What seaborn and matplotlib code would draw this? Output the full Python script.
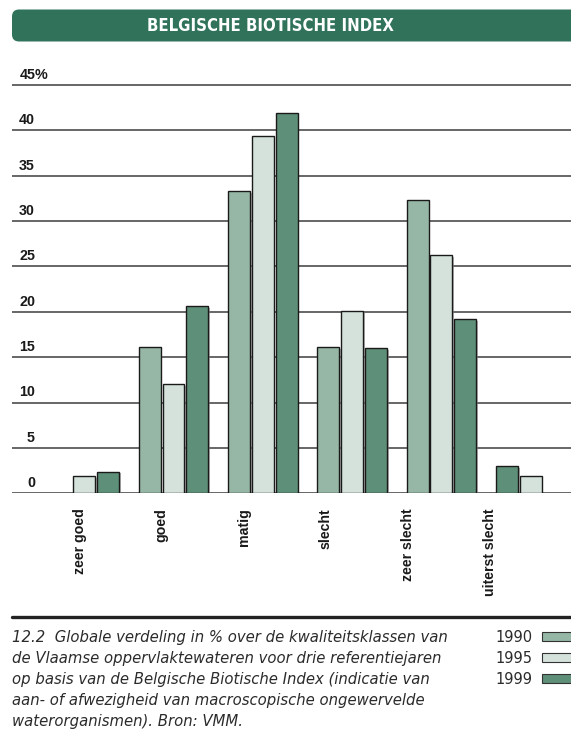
import numpy as np
import pandas as pd
import matplotlib
matplotlib.use("Agg")
import matplotlib.pyplot as plt
import matplotlib.patheffects as pe
from matplotlib.patches import FancyBboxPatch, Rectangle
import seaborn as sns

# data (percent of stations per quality class)
klassen = ["zeer goed", "goed", "matig", "slecht", "zeer slecht", "uiterst slecht"]
jaren = ["1990", "1995", "1999"]
v1990 = [np.nan, 16.1, 33.3, 16.1, 32.3, np.nan]
v1995 = [1.9, 12.0, 39.4, 20.1, 26.2, 1.9]
v1999 = [2.4, 20.6, 41.9, 16.0, 19.2, 3.0]
y_ticks = [0, 5, 10, 15, 20, 25, 30, 35, 40, 45]

kleuren = {"1990": "#97b7a6", "1995": "#d5e2dc", "1999": "#5e8f78"}
header_green = "#30725a"

rows = []
for jaar, vals in zip(jaren, [v1990, v1995, v1999]):
    for k, v in zip(klassen, vals):
        if not np.isnan(v):
            rows.append({"klasse": k, "jaar": jaar, "pct": v})
df = pd.DataFrame(rows)

sns.set_theme(style="white")
plt.rcParams["font.family"] = ["Liberation Sans", "DejaVu Sans"]

W, H = 571, 740
fig = plt.figure(figsize=(W / 100, H / 100), dpi=100)

# axes placed in pixel terms
ax_left, ax_right = 12, 571
y0_px = 493.3
px_per_unit = 9.08
ymax = 45.6
ax_bottom = 1 - y0_px / H
ax_height = ymax * px_per_unit / H
ax = fig.add_axes([ax_left / W, ax_bottom, (ax_right - ax_left) / W, ax_height])

for y in y_ticks:
    ax.axhline(y, color="#5a5a5a", lw=1.3, zorder=0)

sns.barplot(data=df, x="klasse", y="pct", hue="jaar", order=klassen, hue_order=jaren,
            palette=kleuren, saturation=1, width=0.8, gap=0.08, errorbar=None,
            legend=False, edgecolor="#1a1a1a", linewidth=1.0, ax=ax, zorder=2)

# in the reference the last group shows the 1999 bar in the first slot
last_1999 = ax.containers[2].patches[-1]
last_1999.set_x(last_1999.get_x() - 2 * 0.8 / 3)

for bar in ax.patches:
    bar.set_path_effects([pe.SimplePatchShadow(offset=(1.2, -1.2), shadow_rgbFace="#888888", alpha=0.6),
                          pe.Normal()])

ax.set_xlim(-0.808, 5.451)
ax.set_ylim(0, ymax)
for s in ax.spines.values():
    s.set_visible(False)
ax.set_yticks([])
ax.set_xlabel("")
ax.set_ylabel("")

# category labels sit slightly left of the group centres in the original
ax.set_xticks(np.arange(len(klassen)) * 0.918 - 0.05)
ax.set_xticklabels(klassen, rotation=90, va="top", ha="center", fontsize=10.2,
                   fontweight="bold", color="#1a1a1a")
ax.tick_params(axis="x", length=0, pad=11)

# y labels above the gridlines
for y in y_ticks:
    yy = 1 - (y0_px - y * px_per_unit - 6) / H
    if y == 45:
        fig.text(20 / W, yy, "45%", ha="left", va="baseline", fontsize=10.3,
                 fontweight="bold", color="#1a1a1a")
    else:
        fig.text(35 / W, yy, str(y), ha="right", va="baseline", fontsize=10.3,
                 fontweight="bold", color="#1a1a1a")

# header band
hdr = FancyBboxPatch((0.12, (H - 41.5) / 100), 6.2, 0.32,
                     boxstyle="round,pad=0,rounding_size=0.07",
                     transform=fig.dpi_scale_trans, facecolor=header_green,
                     edgecolor="none")
fig.add_artist(hdr)
fig.text(270 / W, 1 - 26 / H, "BELGISCHE BIOTISCHE INDEX", ha="center", va="center",
         color="white", fontsize=12, fontweight="bold", fontstretch="condensed",
         family=["DejaVu Sans"])

# separator above caption
fig.add_artist(plt.Line2D([12 / W, 1], [1 - 617 / H, 1 - 617 / H], color="#222222",
                          lw=2.4, transform=fig.transFigure))

caption = ["12.2  Globale verdeling in % over de kwaliteitsklassen van",
           "de Vlaamse oppervlaktewateren voor drie referentiejaren",
           "op basis van de Belgische Biotische Index (indicatie van",
           "aan- of afwezigheid van macroscopische ongewervelde",
           "waterorganismen). Bron: VMM."]
for i, line in enumerate(caption):
    fig.text(12 / W, 1 - (641.7 + 21 * i) / H, line, ha="left", va="baseline",
             fontsize=10.7, style="italic", color="#2b2b2b", family=["DejaVu Sans"])

# legend
for i, jaar in enumerate(jaren):
    base = 641.7 + 21 * i
    fig.text(495 / W, 1 - base / H, jaar, ha="left", va="baseline", fontsize=10.5,
             color="#2b2b2b", family=["DejaVu Sans"])
    fig.add_artist(Rectangle((542 / W, 1 - (base - 0.5) / H), 40 / W, 9.5 / H,
                             transform=fig.transFigure, facecolor=kleuren[jaar],
                             edgecolor="#333333", lw=0.8))

fig.savefig("out.png", dpi=100)
